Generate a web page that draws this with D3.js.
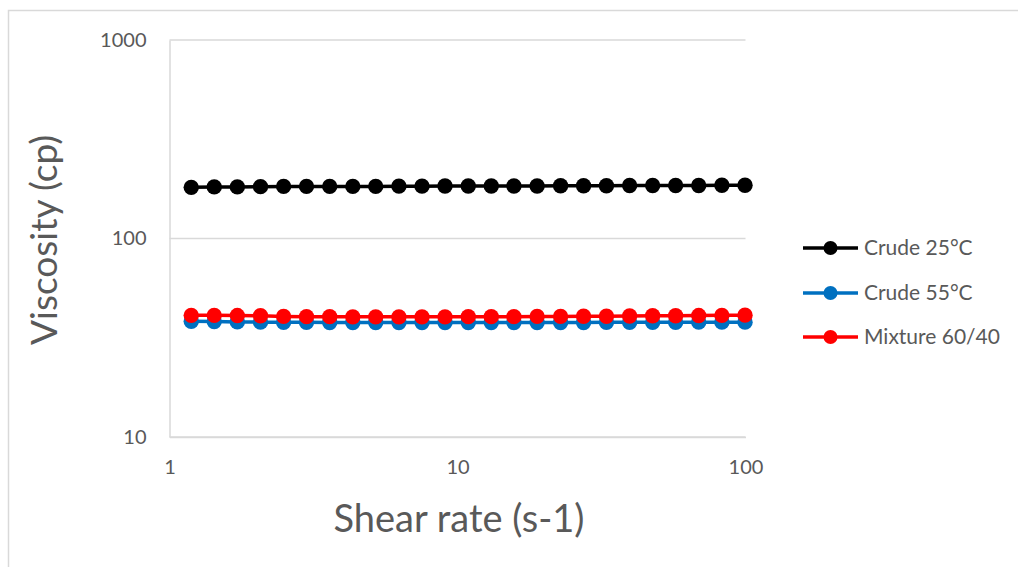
<!DOCTYPE html>
<html>
<head>
<meta charset="utf-8">
<script src="https://cdn.jsdelivr.net/npm/d3@7/dist/d3.min.js"></script>
<style>
  html, body { margin: 0; padding: 0; background: #ffffff; }
  svg { display: block; font-family: Lato, "Open Sans", sans-serif; }
</style>
</head>
<body>
<svg id="chart" width="1018" height="567"></svg>
<script>
// Shear rate (s-1) at each measurement step
const shearRate = [1.19, 1.43, 1.72, 2.07, 2.49, 2.99, 3.6, 4.33, 5.2, 6.26, 7.53, 9.05,
  10.9, 13.1, 15.7, 18.9, 22.8, 27.4, 32.9, 39.6, 47.6, 57.2, 68.8, 82.8, 99.6];

// Viscosity (cp) per series
const crude25 = [181, 182, 182, 182.5, 183, 183, 183, 183, 183, 183.5, 183.5, 184,
  184, 184, 184, 184, 184.5, 184.5, 184.5, 185, 185, 185, 185, 185.5, 185.5];
const crude55 = [38.3, 38.2, 38.0, 37.9, 37.8, 37.8, 37.7, 37.7, 37.7, 37.7, 37.7, 37.7,
  37.7, 37.7, 37.7, 37.7, 37.7, 37.7, 37.8, 37.8, 37.8, 37.8, 37.9, 37.9, 37.9];
const mixture6040 = [41.0, 41.0, 40.9, 40.8, 40.5, 40.4, 40.4, 40.3, 40.3, 40.3, 40.3, 40.3,
  40.4, 40.4, 40.4, 40.5, 40.5, 40.6, 40.6, 40.7, 40.8, 40.8, 40.9, 41.0, 41.1];

const seriesNames = ["Crude 25°C", "Crude 55°C", "Mixture 60/40"];
const seriesColors = ["#000000", "#0070C0", "#FF0000"];
const seriesValues = [crude25, crude55, mixture6040];

const xTicks = [1, 10, 100];
const yTicks = [10, 100, 1000];

const svg = d3.select("#chart");
const textColor = "#595959";
const lineGray = "#d9d9d9";

// outer chart frame
svg.append("rect")
  .attr("x", 8.5).attr("y", 10.5)
  .attr("width", 1100).attr("height", 700)
  .attr("fill", "none").attr("stroke", lineGray).attr("stroke-width", 1.5);

const plot = { left: 169.5, right: 745.5, top: 40, bottom: 437 };

const x = d3.scaleLog().domain([1, 100]).range([plot.left, plot.right]);
const y = d3.scaleLog().domain([10, 1000]).range([plot.bottom, plot.top]);

// horizontal gridlines
svg.append("g")
  .selectAll("line")
  .data(yTicks)
  .join("line")
  .attr("x1", plot.left).attr("x2", plot.right)
  .attr("y1", d => y(d)).attr("y2", d => y(d))
  .attr("stroke", lineGray).attr("stroke-width", 1.5);

// y axis
const yAxis = svg.append("g")
  .attr("transform", `translate(${plot.left},0)`)
  .call(d3.axisLeft(y).tickValues(yTicks).tickSize(0).tickPadding(23).tickFormat(d3.format("d")));
yAxis.select(".domain").attr("stroke", lineGray).attr("stroke-width", 1.5);
yAxis.selectAll("text")
  .attr("fill", textColor).style("font-size", "20px").style("font-family", "Lato, sans-serif");

// x axis
const xAxis = svg.append("g")
  .attr("transform", `translate(0,${plot.bottom})`)
  .call(d3.axisBottom(x).tickValues(xTicks).tickSize(0).tickPadding(23).tickFormat(d3.format("d")));
xAxis.select(".domain").attr("stroke", lineGray).attr("stroke-width", 1.5);
xAxis.selectAll("text")
  .attr("fill", textColor).style("font-size", "20px").style("font-family", "Lato, sans-serif");

// series lines and markers
const line = d3.line().x(d => x(d[0])).y(d => y(d[1]));

seriesValues.forEach((vals, i) => {
  const pts = shearRate.map((s, j) => [s, vals[j]]);
  const g = svg.append("g");
  g.append("path")
    .datum(pts)
    .attr("d", line)
    .attr("fill", "none")
    .attr("stroke", seriesColors[i])
    .attr("stroke-width", 3.5);
  g.selectAll("circle")
    .data(pts)
    .join("circle")
    .attr("cx", d => x(d[0]))
    .attr("cy", d => y(d[1]))
    .attr("r", 7.7)
    .attr("fill", seriesColors[i]);
});

// axis titles
svg.append("text")
  .attr("x", 459).attr("y", 532)
  .attr("text-anchor", "middle")
  .attr("fill", textColor)
  .style("font-size", "38px")
  .text("Shear rate (s-1)");

svg.append("text")
  .attr("transform", "translate(57,240) rotate(-90)")
  .attr("text-anchor", "middle")
  .attr("fill", textColor)
  .style("font-size", "37px")
  .text("Viscosity (cp)");

// legend
const legend = svg.append("g");
const legendY = [248, 293, 337];
seriesNames.forEach((name, i) => {
  const row = legend.append("g").attr("transform", `translate(0,${legendY[i]})`);
  row.append("line")
    .attr("x1", 803).attr("x2", 858).attr("y1", 0).attr("y2", 0)
    .attr("stroke", seriesColors[i]).attr("stroke-width", 3.5);
  row.append("circle")
    .attr("cx", 830.5).attr("cy", 0).attr("r", 7)
    .attr("fill", seriesColors[i]);
  row.append("text")
    .attr("x", 864).attr("y", 0).attr("dy", "0.35em")
    .attr("fill", textColor)
    .style("font-size", "21px")
    .text(name);
});
</script>
</body>
</html>
